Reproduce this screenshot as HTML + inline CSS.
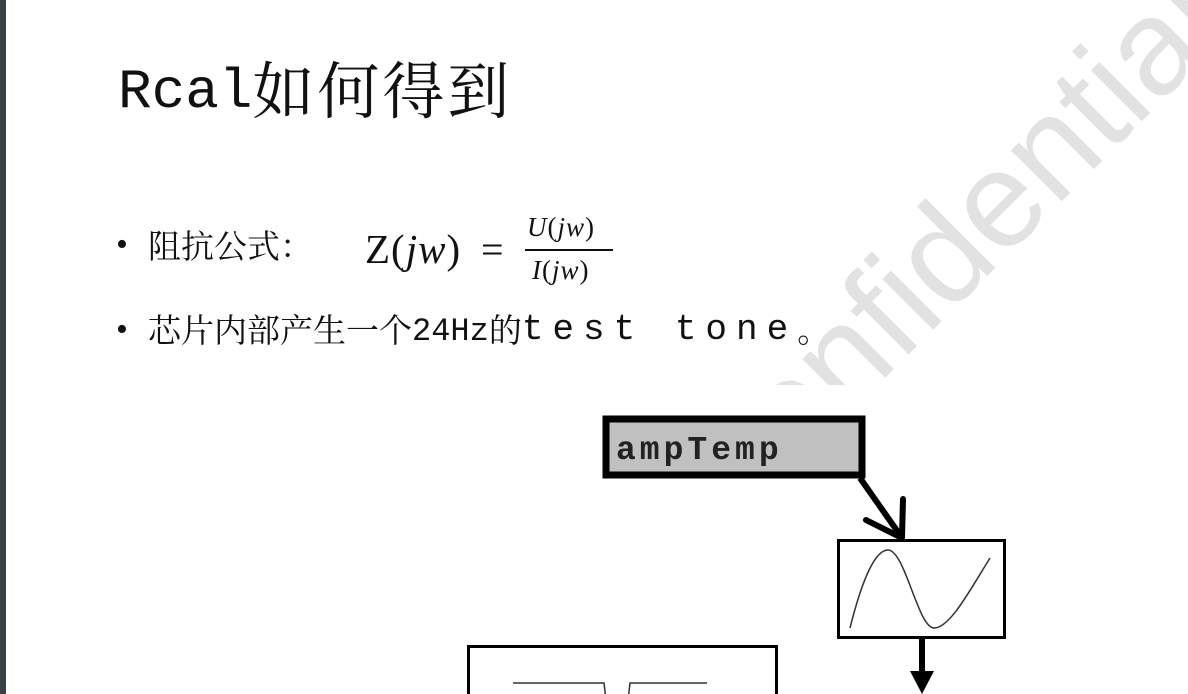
<!DOCTYPE html>
<html><head><meta charset="utf-8"><style>
html,body{margin:0;padding:0;}
body{width:1188px;height:694px;position:relative;overflow:hidden;background:#fff;font-family:"Liberation Serif","Noto Serif CJK SC",serif;}
.a{position:absolute;white-space:nowrap;line-height:1;}
.c{font-family:"Noto Serif CJK SC",serif;}
.s{font-family:"Liberation Serif",serif;}
.m{font-family:"Liberation Mono",monospace;}
</style></head><body>
<svg width="1188" height="694" style="position:absolute;left:0;top:0">
<defs><clipPath id="cp"><rect x="0" y="0" width="1188" height="385"/></clipPath></defs>
<g clip-path="url(#cp)">
<text x="745" y="518" transform="rotate(-45 745 518)" font-family="DejaVu Sans ExtraLight, Liberation Sans, sans-serif" font-weight="200" font-size="136" fill="#e2e2e2">confidential</text>
</g>
</svg>
<div style="position:absolute;left:0;top:0;width:6px;height:694px;background:#3c4043"></div>

<div class="a" style="left:118px;top:56px;color:#111"><span class="m" style="font-size:56px;position:relative;top:-6px">Rcal</span><span class="c" style="font-size:62px;letter-spacing:3px">如何得到</span></div>

<div class="a" style="left:116px;top:228px;font-size:34px;color:#111">•</div>
<div class="a c" style="left:148px;top:228px;font-size:33px;color:#111">阻抗公式：</div>
<div class="a s" style="left:365px;top:229px;font-size:41px;color:#111;letter-spacing:1px">Z(<i>jw</i>)</div>
<div class="a s" style="left:481px;top:230px;font-size:40px;color:#111">=</div>
<div class="a s" style="left:527px;top:214px;font-size:27px;color:#111;letter-spacing:1px"><i>U</i>(<i>jw</i>)</div>
<div style="position:absolute;left:525px;top:249px;width:88px;height:2px;background:#111"></div>
<div class="a s" style="left:532px;top:257px;font-size:27px;color:#111;letter-spacing:1px"><i>I</i>(<i>jw</i>)</div>

<div class="a" style="left:116px;top:313px;font-size:34px;color:#111">•</div>
<div class="a" style="left:148px;top:312px;font-size:33px;color:#111"><span class="c">芯片内部产生一个</span><span class="m" style="font-size:32px;position:relative;top:-2px">24Hz</span><span class="c">的</span><span class="m" style="font-size:36px;letter-spacing:9px;position:relative;top:-3px">test tone</span><span class="c">。</span></div>

<svg width="1188" height="694" style="position:absolute;left:0;top:0">
<rect x="606" y="419" width="256" height="56" fill="#c0c0c0" stroke="#000" stroke-width="7"/>
<text x="616" y="459" font-family="Liberation Mono, monospace" font-weight="bold" font-size="33" letter-spacing="4" fill="#222">ampTemp</text>
<line x1="860" y1="478" x2="900" y2="535" stroke="#000" stroke-width="6"/>
<path d="M866 520 L902 538 L903 499" fill="none" stroke="#000" stroke-width="6" stroke-linecap="round" stroke-linejoin="round"/>
<rect x="838.5" y="540.5" width="166" height="97" fill="#fff" stroke="#000" stroke-width="3"/>
<path d="M850 628 C862 580 875 550 888 550 C905 550 918 628 934 628 C950 628 970 590 990 558" fill="none" stroke="#333" stroke-width="1.5"/>
<line x1="922" y1="639" x2="922" y2="680" stroke="#000" stroke-width="6"/>
<path d="M910 671 L934 671 L922 694 Z" fill="#000"/>
<rect x="468.5" y="646.5" width="308" height="60" fill="#fff" stroke="#000" stroke-width="3"/>
<path d="M513 683 L604 683 L606 700 M628 700 L630 683 L707 683" fill="none" stroke="#333" stroke-width="1.5"/>
</svg>
</body></html>
